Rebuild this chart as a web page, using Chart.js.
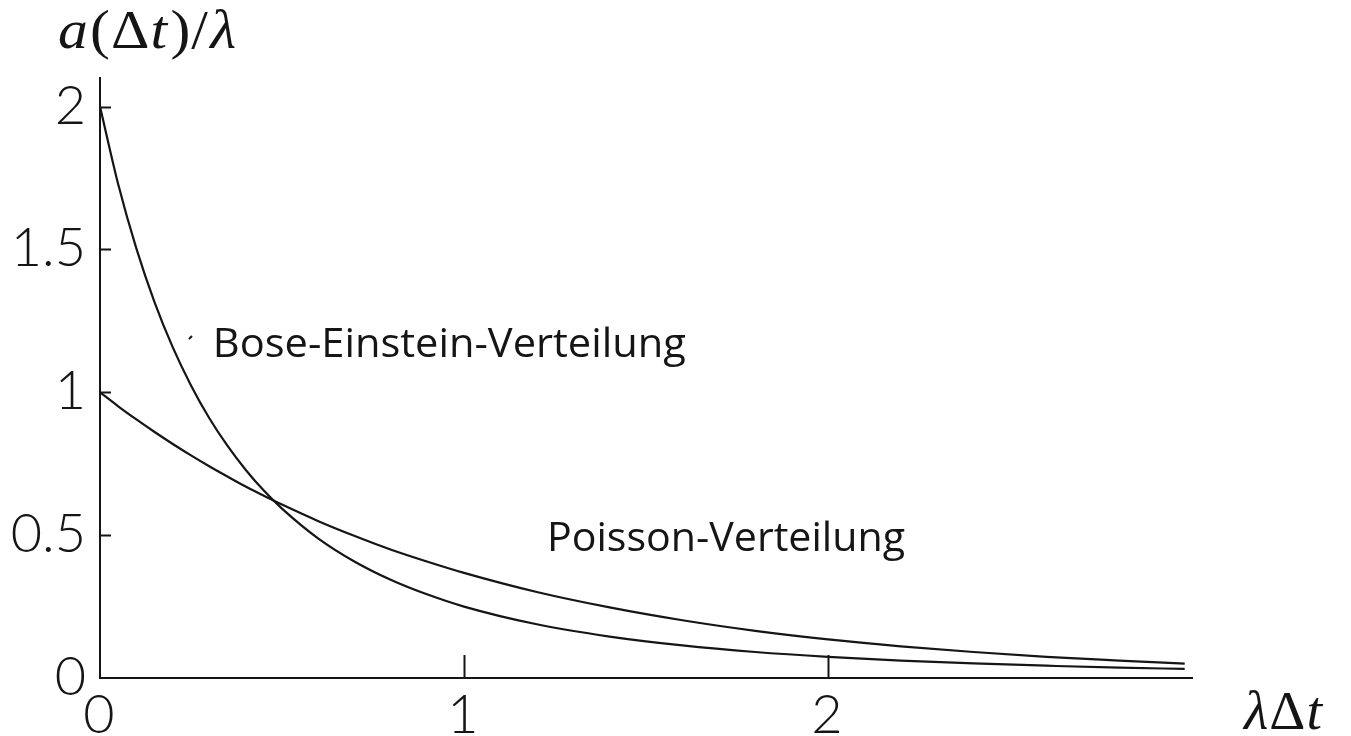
<!DOCTYPE html>
<html lang="de">
<head>
<meta charset="UTF-8">
<title>a(Δt)/λ – Poisson- und Bose-Einstein-Verteilung</title>
<script src="https://cdn.jsdelivr.net/npm/chart.js"></script>
<style>
  html, body { margin: 0; padding: 0; background: #ffffff; }
  #chart-container { width: 1351px; height: 736px; }
</style>
</head>
<body>

<div id="chart-container">
  <canvas id="myChart"></canvas>
</div>

<script>
// values (x = λΔt, y = a(Δt)/λ)
const xValues      = [0, 0.05, 0.1, 0.15, 0.2, 0.25, 0.3, 0.35, 0.4, 0.45, 0.5, 0.6, 0.7, 0.8, 0.9, 1.0, 1.2, 1.4, 1.6, 1.8, 2.0, 2.2, 2.4, 2.6, 2.8, 2.98];
const poisson      = [1.000, 0.951, 0.905, 0.861, 0.819, 0.779, 0.741, 0.705, 0.670, 0.638, 0.607, 0.549, 0.497, 0.449, 0.407, 0.368, 0.301, 0.247, 0.202, 0.165, 0.135, 0.111, 0.091, 0.074, 0.061, 0.050];
const boseEinstein = [2.000, 1.728, 1.503, 1.315, 1.157, 1.024, 0.910, 0.813, 0.729, 0.656, 0.593, 0.488, 0.407, 0.343, 0.292, 0.250, 0.188, 0.145, 0.114, 0.091, 0.074, 0.061, 0.051, 0.043, 0.036, 0.032];

const xTickValues = [0, 1, 2];
const xTickLabels = ['0', '1', '2'];
const xTickMarks  = [1, 2];
const yTickValues = [0, 0.5, 1, 1.5, 2];
const yTickLabels = ['0', '0.5', '1', '1.5', '2'];
const yTickMarks  = [0.5, 1, 1.5, 2];

const xMax = 3.0;
const yMax = 2.1;

const INK = '#151515';

function toPoints(ys) {
  return xValues.map((x, i) => ({ x: x, y: ys[i] }));
}

// draws a row of text pieces (each with its own font), squeezed or stretched to width
function drawPieces(ctx, pieces, x, y, width) {
  let total = 0;
  pieces.forEach(p => { ctx.font = p[1]; total += ctx.measureText(p[0]).width + (p[2] || 0); });
  ctx.save();
  ctx.translate(x, y);
  ctx.scale(width / total, 1);
  let cx = 0;
  pieces.forEach(p => {
    ctx.font = p[1];
    ctx.fillText(p[0], cx, 0);
    cx += ctx.measureText(p[0]).width + (p[2] || 0);
  });
  ctx.restore();
}

function drawFitted(ctx, text, font, left, baseline, width) {
  ctx.font = font;
  const w = ctx.measureText(text).width;
  ctx.save();
  ctx.translate(left, baseline);
  ctx.scale(width / w, 1);
  ctx.textAlign = 'left';
  ctx.fillText(text, 0, 0);
  ctx.restore();
}

const axisDecor = {
  id: 'axisDecor',
  afterDraw(chart) {
    const ctx = chart.ctx;
    const area = chart.chartArea;
    const xs = chart.scales.x, ys = chart.scales.y;
    ctx.save();
    ctx.strokeStyle = INK;
    ctx.lineWidth = 2;

    // inward tick marks
    yTickMarks.forEach(v => {
      const py = Math.round(ys.getPixelForValue(v)) + 0.5;
      ctx.beginPath(); ctx.moveTo(area.left, py); ctx.lineTo(area.left + 11, py); ctx.stroke();
    });
    xTickMarks.forEach(v => {
      const px = Math.round(xs.getPixelForValue(v)) + 0.5;
      ctx.beginPath(); ctx.moveTo(px, area.bottom); ctx.lineTo(px, area.bottom - 23); ctx.stroke();
    });

    // tick labels
    ctx.fillStyle = INK;
    ctx.font = '300 54px Lato';
    ctx.textBaseline = 'alphabetic';
    ctx.textAlign = 'right';
    yTickValues.forEach((v, i) => {
      ctx.fillText(yTickLabels[i], 86, ys.getPixelForValue(v) + 17);
    });
    ctx.textAlign = 'center';
    xTickValues.forEach((v, i) => {
      ctx.fillText(xTickLabels[i], xs.getPixelForValue(v) - 1, 733);
    });

    // axis titles
    ctx.textAlign = 'left';
    const it = 'italic 54px "Liberation Serif"', up = '54px "Liberation Serif"';
    drawPieces(ctx, [['a', it, 2], ['(', up, 1], ['Δ', up, 1], ['t', it, 3], [')', up, 1], ['/', up, 2], ['λ', it]], 58, 48, 178);
    drawPieces(ctx, [['λ', it, 1], ['Δ', up, 1], ['t', it]], 1244, 729, 78);

    // curve annotations
    const annFont = '40px "Open Sans"';
    drawFitted(ctx, 'Bose-Einstein-Verteilung', annFont, xs.getPixelForValue(0.31), ys.getPixelForValue(1.124), 473);
    drawFitted(ctx, 'Poisson-Verteilung', annFont, xs.getPixelForValue(1.228), ys.getPixelForValue(0.445), 358);

    // small stray mark left of the Bose-Einstein label
    ctx.lineWidth = 2;
    ctx.beginPath(); ctx.moveTo(189, 339); ctx.lineTo(192, 336); ctx.stroke();
    ctx.restore();
  }
};

const ctx = document.getElementById('myChart').getContext('2d');
new Chart(ctx, {
  type: 'line',
  data: {
    datasets: [
      { label: 'Poisson-Verteilung', data: toPoints(poisson), borderColor: INK, borderWidth: 2.2, pointRadius: 0, fill: false, cubicInterpolationMode: 'monotone' },
      { label: 'Bose-Einstein-Verteilung', data: toPoints(boseEinstein), borderColor: INK, borderWidth: 2.2, pointRadius: 0, fill: false, cubicInterpolationMode: 'monotone' }
    ]
  },
  options: {
    responsive: true,
    maintainAspectRatio: false,
    animation: false,
    events: [],
    layout: { padding: { left: 100, top: 78, right: 159, bottom: 58 } },
    plugins: { legend: { display: false }, tooltip: { enabled: false } },
    scales: {
      x: {
        type: 'linear', min: 0, max: xMax,
        ticks: { display: false },
        grid: { display: false, drawTicks: false, tickLength: 0 },
        border: { display: true, color: INK, width: 2 }
      },
      y: {
        type: 'linear', min: 0, max: yMax,
        ticks: { display: false },
        grid: { display: false, drawTicks: false, tickLength: 0 },
        border: { display: true, color: INK, width: 2 }
      }
    }
  },
  plugins: [axisDecor]
});
</script>

</body>
</html>
